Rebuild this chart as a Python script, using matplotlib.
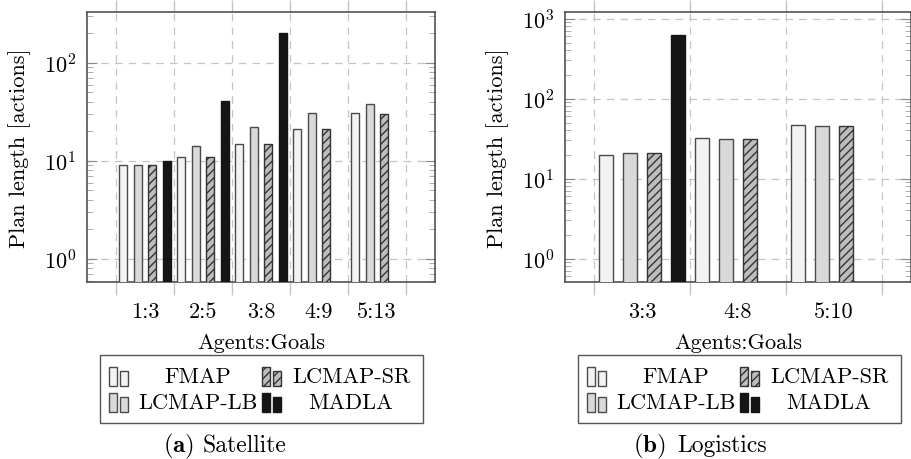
import numpy as np
import matplotlib
matplotlib.use("Agg")
import matplotlib.pyplot as plt
from matplotlib.patches import Rectangle
from matplotlib.ticker import LogLocator, NullFormatter

plt.rcParams.update({
    'font.family': 'serif',
    'font.serif': ['cmr10', 'DejaVu Serif'],
    'mathtext.fontset': 'cm',
    'axes.formatter.use_mathtext': True,
    'font.size': 16,
})

# ------------------- data -------------------
series = ['FMAP', 'LCMAP-LB', 'LCMAP-SR', 'MADLA']

sat_groups = ['1:3', '2:5', '3:8', '4:9', '5:13']
sat_fmap = [9, 11, 15, 21, 31]
sat_lb = [9, 14, 22, 31, 38]
sat_sr = [9, 11, 15, 21, 30]
sat_madla = [10, 41, 200, np.nan, np.nan]

log_groups = ['3:3', '4:8', '5:10']
log_fmap = [20, 32.5, 46.5]
log_lb = [21, 31, 45]
log_sr = [21, 31, 45]
log_madla = [630, np.nan, np.nan]

# ------------------- styles -------------------
EDGE = '#4a4a4a'
styles = [
    dict(facecolor='#f3f3f3', edgecolor=EDGE, hatch=None),
    dict(facecolor='#d9d9d9', edgecolor=EDGE, hatch=None),
    dict(facecolor='#bdbdbd', edgecolor='#333333', hatch='////'),
    dict(facecolor='#151515', edgecolor='#151515', hatch=None),
]
GRID = '#c4c4c4'
W, H = 912, 460


def fig_xy(x, y):
    return x / W, 1 - y / H


def bar_panel(ax, groups, values, xlim, ylim):
    n = len(groups)
    base = np.arange(n)
    offsets = [0.125, 0.375, 0.625, 0.875]
    for vals, off, st in zip(values, offsets, styles):
        ax.bar(base + off, vals, width=0.14, bottom=1e-3, linewidth=1.0,
               zorder=3, **st)
    ax.set_yscale('log')
    ax.set_xlim(*xlim)
    ax.set_ylim(*ylim)
    ax.set_axisbelow(True)

    ax.set_xticks(np.arange(n + 1))
    ax.set_xticklabels([])
    ax.set_xticks(base + 0.5, groups, minor=True)
    ax.tick_params(axis='x', which='major', direction='out', length=9,
                   color=GRID, width=1, top=True, bottom=True)
    ax.tick_params(axis='x', which='minor', length=0, pad=14)
    ax.grid(axis='x', which='major', color=GRID, linestyle=(0, (6, 5)), linewidth=0.9)

    ax.yaxis.set_major_locator(LogLocator(base=10, numticks=10))
    ax.yaxis.set_minor_locator(LogLocator(base=10, subs=np.arange(2, 10), numticks=10))
    ax.yaxis.set_minor_formatter(NullFormatter())
    ax.tick_params(axis='y', which='major', direction='in', length=7, color='#8a8a8a',
                   left=True, right=True, pad=8)
    ax.tick_params(axis='y', which='minor', direction='in', length=4, color='#a0a0a0',
                   left=True, right=True)
    ax.grid(axis='y', which='major', color=GRID, linestyle=(0, (6, 5)), linewidth=0.9)

    for sp in ax.spines.values():
        sp.set_color('#444444')
        sp.set_linewidth(1.1)
    ax.set_ylabel('Plan length [actions]', labelpad=9)
    ax.set_xlabel('Agents:Goals', labelpad=8)


def draw_legend(fig, x0, x1, y0, y1, col_handle_x, col_text_x, row_y):
    fig.add_artist(Rectangle(fig_xy(x0, y1), (x1 - x0) / W, (y1 - y0) / H,
                             transform=fig.transFigure, facecolor='white',
                             edgecolor='#555555', linewidth=1.0))
    cells = [(0, 0), (0, 1), (1, 0), (1, 1)]  # (col, row) for each series
    for (c, r), name, st in zip(cells, series, styles):
        hx = col_handle_x[c]
        cy = row_y[r]
        for dx, hh in [(0, 19), (11, 15)]:
            fig.add_artist(Rectangle(fig_xy(hx + dx, cy + 9.5), 8 / W, hh / H,
                                     transform=fig.transFigure, linewidth=1.0, **st))
        fig.text(*fig_xy(col_text_x[c], cy), name, ha='center', va='center',
                 fontsize=16)


fig = plt.figure(figsize=(9.12, 4.6), dpi=100)

ax1 = fig.add_axes([87 / W, 1 - 283 / H, (435 - 87) / W, (283 - 13) / H])
bar_panel(ax1, sat_groups, [sat_fmap, sat_lb, sat_sr, sat_madla], (-0.5, 5.5), (0.58, 330))

ax2 = fig.add_axes([565 / W, 1 - 283 / H, (911 - 565) / W, (283 - 13) / H])
bar_panel(ax2, log_groups, [log_fmap, log_lb, log_sr, log_madla], (-0.3, 3.3), (0.51, 1210))

draw_legend(fig, 100, 423, 356, 424, [109, 262], [198, 351], [377, 403])
draw_legend(fig, 578, 901, 356, 424, [587, 740], [676, 829], [377, 403])

fig.text(*fig_xy(163, 446), r'$\mathbf{(a)}$', ha='left', va='center', fontsize=18)
fig.text(*fig_xy(203, 446), 'Satellite', ha='left', va='center', fontsize=17)
fig.text(*fig_xy(633, 446), r'$\mathbf{(b)}$', ha='left', va='center', fontsize=18)
fig.text(*fig_xy(677, 446), 'Logistics', ha='left', va='center', fontsize=17)

fig.savefig('out.png', dpi=100)
